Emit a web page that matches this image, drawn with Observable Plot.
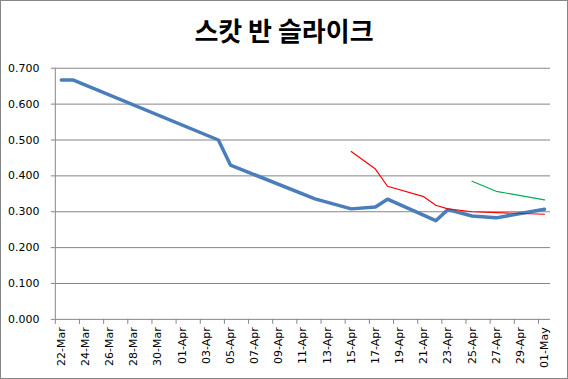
<!DOCTYPE html>
<html><head><meta charset="utf-8">
<script src="https://cdn.jsdelivr.net/npm/d3@7"></script>
<script src="https://cdn.jsdelivr.net/npm/@observablehq/plot@0.6"></script>
<style>
html,body{margin:0;padding:0;background:#fff;}
#chart{position:relative;width:568px;height:379px;box-sizing:border-box;border:1px solid #868686;overflow:hidden;background:#fff;}
#title{position:absolute;left:0;right:0;top:14px;text-align:center;font-family:"Noto Sans CJK KR";font-weight:bold;font-size:26px;line-height:30px;color:#000;z-index:2;}
#chart svg{position:absolute;left:-1px;top:-1px;}
</style></head><body>
<div id="chart"><div id="title"></div></div>
<script>
const title = "스캇 반 슬라이크";
const year = "2020";

// x tick labels (every 2 days)
const xTickLabels = ["22-Mar","24-Mar","26-Mar","28-Mar","30-Mar","01-Apr","03-Apr","05-Apr","07-Apr","09-Apr","11-Apr","13-Apr","15-Apr","17-Apr","19-Apr","21-Apr","23-Apr","25-Apr","27-Apr","29-Apr","01-May"];
const yTicks = [0, 0.1, 0.2, 0.3, 0.4, 0.5, 0.6, 0.7];

// series 1 (blue, thick)
const blueDates  = ["22-Mar","23-Mar","04-Apr","05-Apr","12-Apr","15-Apr","17-Apr","18-Apr","22-Apr","23-Apr","25-Apr","27-Apr","29-Apr","01-May"];
const blueValues = [0.667, 0.667, 0.500, 0.430, 0.336, 0.308, 0.313, 0.335, 0.275, 0.306, 0.288, 0.283, 0.295, 0.307];

// series 2 (red)
const redDates  = ["15-Apr","17-Apr","18-Apr","21-Apr","22-Apr","23-Apr","25-Apr","01-May"];
const redValues = [0.468, 0.419, 0.371, 0.342, 0.318, 0.308, 0.300, 0.293];

// series 3 (green)
const greenDates  = ["25-Apr","27-Apr","01-May"];
const greenValues = [0.385, 0.357, 0.333];

const parse = d3.utcParse("%d-%b-%Y");
const toDate = s => parse(s + "-" + year);
const fmt = d3.utcFormat("%d-%b");
const half = 12 * 3600 * 1000;

const series = (dates, values) => dates.map((d, i) => ({date: toDate(d), value: values[i]}));
const blue = series(blueDates, blueValues);
const red = series(redDates, redValues);
const green = series(greenDates, greenValues);

const tickDates = xTickLabels.map(toDate);
const boundaries = tickDates.map(d => new Date(+d - half));
const x0 = new Date(+tickDates[0] - half);
const x1 = new Date(+tickDates[tickDates.length - 1] + half);

document.getElementById("title").textContent = title;

const chart = Plot.plot({
  width: 568,
  height: 379,
  marginTop: 68,
  marginBottom: 59,
  marginLeft: 55,
  marginRight: 16,
  style: {fontFamily: "DejaVu Sans", fontSize: "11px", color: "#000", background: "transparent"},
  x: {type: "utc", domain: [x0, x1], label: null},
  y: {domain: [0, 0.7], label: null},
  marks: [
    Plot.gridY(yTicks, {stroke: "#868686", strokeOpacity: 1}),
    Plot.ruleX([x0], {stroke: "#868686"}),
    Plot.axisY(yTicks, {tickSize: 4, tickPadding: 12, tickFormat: d3.format(".3f"), stroke: "#868686", fill: "#000", fontSize: 11, label: null}),
    Plot.axisX(boundaries, {tickSize: 5, tickFormat: () => "", stroke: "#868686", label: null}),
    Plot.axisX(tickDates, {tickSize: 0, tickRotate: -90, tickPadding: 8, tickFormat: fmt, fill: "#000", fontSize: 11, label: null}),
    Plot.lineY(blue, {x: "date", y: "value", stroke: "#4A7EBB", strokeWidth: 3.5}),
    Plot.lineY(red, {x: "date", y: "value", stroke: "#FF0000", strokeWidth: 1.2}),
    Plot.lineY(green, {x: "date", y: "value", stroke: "#00B050", strokeWidth: 1.2})
  ]
});
document.getElementById("chart").appendChild(chart);
</script>
</body></html>
